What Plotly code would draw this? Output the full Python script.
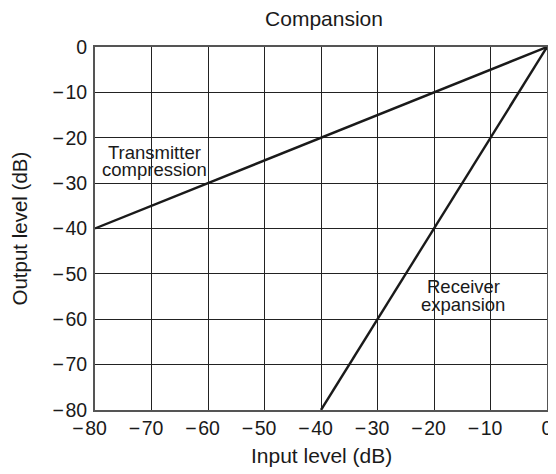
import plotly.graph_objects as go

# data
compression_x = [-80, 0]
compression_y = [-40, 0]
expansion_x = [-40, 0]
expansion_y = [-80, 0]
tick_vals = [-80, -70, -60, -50, -40, -30, -20, -10, 0]
y_tick_text = ["\u2212\u200a80", "\u2212\u200a70", "\u2212\u200a60", "\u2212\u200a50", "\u2212\u200a40",
               "\u2212\u200a30", "\u2212\u200a20", "\u2212\u200a10", "0"]
# x labels: trailing figure space so the digits sit centred on the gridline, minus hanging left
x_tick_text = [t + "\u2007" if t != "0" else t for t in y_tick_text]

# page body has an 8px margin, so the figure is sized to fit the 556x474 window
W, H = 548, 466
L, R, T, B = 87, 3, 39, 64
pw, ph = W - L - R, H - T - B

fig = go.Figure()
fig.add_trace(go.Scatter(x=compression_x, y=compression_y, mode="lines",
                         line=dict(color="#1a1a1a", width=2.4), showlegend=False))
fig.add_trace(go.Scatter(x=expansion_x, y=expansion_y, mode="lines",
                         line=dict(color="#1a1a1a", width=2.4), showlegend=False))

# line labels, one annotation per text line to keep the tight spacing
ann_font = dict(size=18.5, color="#1a1a1a")
fig.add_annotation(x=-69.4, y=-23.2, text="Transmitter", showarrow=False, font=ann_font)
fig.add_annotation(x=-69.4, y=-27.0, text="compression", showarrow=False, font=ann_font)
fig.add_annotation(x=-14.8, y=-52.8, text="Receiver", showarrow=False, font=ann_font)
fig.add_annotation(x=-14.8, y=-56.7, text="expansion", showarrow=False, font=ann_font)

# axis titles placed by hand
fig.add_annotation(x=0.5, y=-45 / ph, xref="paper", yref="paper", yanchor="middle",
                   text="Input level (dB)", showarrow=False, font=dict(size=21))
fig.add_annotation(x=-76 / pw, y=0.5, xref="paper", yref="paper", xanchor="center",
                   text="Output level (dB)", textangle=-90, showarrow=False, font=dict(size=20.5))

axis_common = dict(range=[-80, 0], tickvals=tick_vals, showgrid=True,
                   gridcolor="#222222", gridwidth=1, zeroline=False, showline=True,
                   linecolor="#555555", linewidth=2, mirror=True, ticks="",
                   ticklabeloverflow="allow", tickfont=dict(size=19.5, color="#1a1a1a"))

fig.update_layout(
    width=W, height=H,
    margin=dict(l=L, r=R, t=T, b=B),
    plot_bgcolor="white", paper_bgcolor="white",
    font=dict(family="Liberation Sans, Arial, sans-serif", color="#1a1a1a"),
    title=dict(text="Compansion", x=(L + pw / 2) / W, xanchor="center",
               y=1 - 11 / H, yanchor="middle", font=dict(size=21)),
    xaxis=dict(**axis_common, ticktext=x_tick_text),
    yaxis=dict(**axis_common, ticktext=y_tick_text, ticklabelstandoff=2),
)

fig.write_html("out.html")
